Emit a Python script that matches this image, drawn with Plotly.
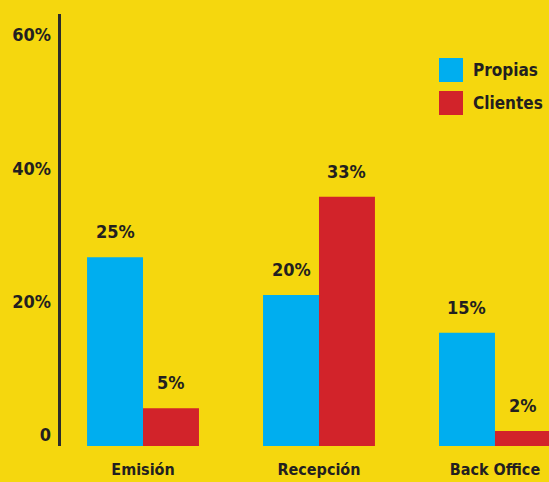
import plotly.graph_objects as go

categories = ["Emisión", "Recepción", "Back Office"]
propias = [25, 20, 15]
clientes = [5, 33, 2]
series_names = ["Propias", "Clientes"]
tick_vals = [0, 20, 40, 60]
tick_text = ["0", "20%", "40%", "60%"]

BG = "#F5D70E"
BLUE = "#00AEEF"
RED = "#D2232A"
INK = "#231F20"
FONT = "Liberation Sans Narrow, DejaVu Sans Condensed, Roboto, sans-serif"
BARGAP = 0.364

fig = go.Figure()
fig.add_bar(x=list(range(len(categories))), y=propias, name=series_names[0],
            marker=dict(color=BLUE, line=dict(width=0)))
fig.add_bar(x=list(range(len(categories))), y=clientes, name=series_names[1],
            marker=dict(color=RED, line=dict(width=0)))
# invisible trace to carry the label axis
fig.add_scatter(x=[0], y=[0], yaxis="y2", mode="markers",
                marker=dict(opacity=0), hoverinfo="skip", showlegend=False)

off = (1 - BARGAP) / 4
ann = []
for i in range(len(categories)):
    for vals, sgn in ((propias, -1), (clientes, 1)):
        ann.append(dict(x=i + sgn * off, y=vals[i], xref="x", yref="y",
                        text=f"<b>{vals[i]}%</b>", showarrow=False, yanchor="bottom",
                        yshift=13, font=dict(family=FONT, size=18, color=INK)))

# legend drawn manually with large squares
shapes = []
for k, col in enumerate([BLUE, RED]):
    y0 = 58 + k * 33
    shapes.append(dict(type="rect", xref="paper", yref="paper",
                       x0=(439 - 61) / 488, x1=(463 - 61) / 488,
                       y0=(446 - (y0 + 24)) / 432, y1=(446 - y0) / 432,
                       fillcolor=col, line=dict(width=0), layer="above"))
    ann.append(dict(x=(471 - 61) / 488, y=(446 - (y0 + 12)) / 432,
                    xref="paper", yref="paper", xanchor="left", yanchor="middle",
                    text=f"<b>{series_names[k]}</b>", showarrow=False,
                    font=dict(family=FONT, size=17, color=INK)))

fig.update_layout(
    width=549, height=482,
    margin=dict(l=61, r=0, t=14, b=36),
    paper_bgcolor=BG, plot_bgcolor=BG,
    barmode="group", bargap=BARGAP, bargroupgap=0,
    showlegend=False,
    annotations=ann, shapes=shapes,
    xaxis=dict(range=[-0.466, 2.307], tickvals=list(range(len(categories))),
               ticktext=[f"<b>{c}</b>" for c in categories],
               showgrid=False, zeroline=False, showline=False, ticks="",
               ticklabelstandoff=12,
               tickfont=dict(family=FONT, size=16, color=INK)),
    yaxis=dict(range=[0, 57.2], showgrid=False, zeroline=False,
               showticklabels=False, showline=True, linecolor="#2B2B2B",
               linewidth=2.5, ticks=""),
    yaxis2=dict(overlaying="y", side="left", range=[-1.65, 63.15],
                tickvals=tick_vals, ticktext=[f"<b>{t}</b>" for t in tick_text],
                showgrid=False, zeroline=False, showline=False, ticks="",
                ticklabelstandoff=9,
                tickfont=dict(family=FONT, size=18, color=INK)),
)

fig.write_html("out.html")
